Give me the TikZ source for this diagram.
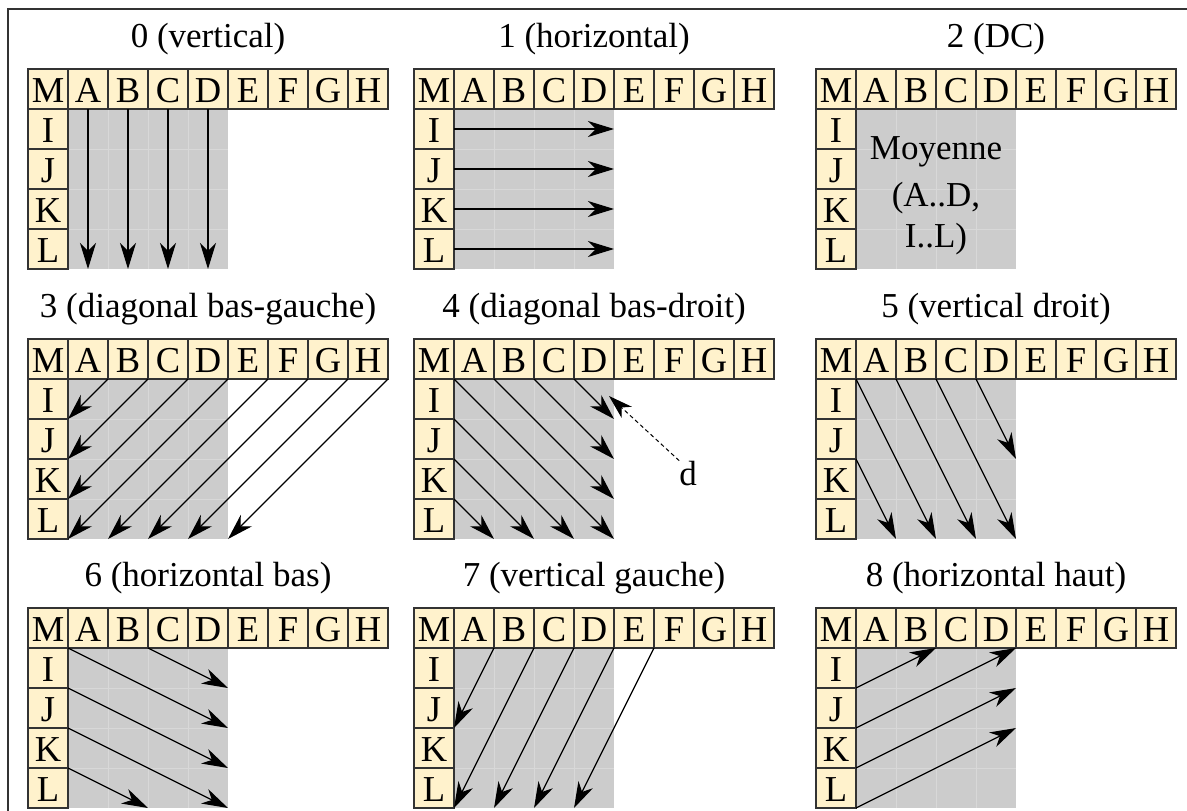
\documentclass[tikz,border=0pt]{standalone}
\usepackage{fontspec}
\setmainfont{Liberation Serif}
\usetikzlibrary{arrows.meta}
\definecolor{cellfill}{HTML}{FFF2CC}
\definecolor{celldraw}{HTML}{333333}
\definecolor{greyfill}{HTML}{CCCCCC}
\definecolor{greyline}{HTML}{D8D8D8}
\definecolor{framecol}{HTML}{333333}
\newcommand\mkpanel[4]{%
\begin{scope}[shift={(#2,#3)}]
 \foreach \rr in {1,...,4}{\foreach \kk in {1,...,4}{\node[greycell] (#1-g-\rr-\kk) at ({20+40*\kk},{20+40*\rr}) {};}}
 \fill[greyfill] (#1-g-1-1.north west) rectangle (#1-g-4-4.south east);
 \foreach \kk in {1,2,3}{\draw[greyline,line width=0.8pt] (#1-g-1-\kk.north east) -- (#1-g-4-\kk.south east);
   \draw[greyline,line width=0.8pt] (#1-g-\kk-1.south west) -- (#1-g-\kk-4.south east);}
 \foreach \lbl [count=\ii from 0] in {M,A,B,C,D,E,F,G,H}{\node[cellbox] (#1-\lbl) at ({20+40*\ii},20) {\lbl};}
 \foreach \lbl [count=\ii from 1] in {I,J,K,L}{\node[cellbox] (#1-\lbl) at (20,{20+40*\ii}) {\lbl};}
 \node[titletext] (#1-title) at (180,-22) {#4};
\end{scope}}
\begin{document}
\begin{tikzpicture}[x=1pt,y=-1pt,
  every node/.style={font=\fontsize{35}{42}\selectfont, inner sep=0pt, outer sep=0pt},
  cellbox/.style={draw=celldraw, fill=cellfill, line width=1.2pt, minimum width=40pt, minimum height=40pt, text height=26pt, text depth=0pt, font=\fontsize{36.5}{42}\selectfont},
  greycell/.style={minimum width=40pt, minimum height=40pt},
  arr/.style={line width=1.3pt, -{Stealth[length=26pt,width=16pt,inset=8pt]}},
  darr/.style={line width=1pt, dash pattern=on 4pt off 3pt, -{Stealth[length=24pt,width=15pt,inset=7pt]}},
  titletext/.style={anchor=base}
]
\useasboundingbox (0,0) rectangle (1187,811);
\fill[white] (0,0) rectangle (1187,811);
\draw[framecol, line width=1.2pt] (8,811) -- (8,9) -- (1187,9);

\mkpanel{p0}{28}{69}{0 (vertical)}
\mkpanel{p1}{414}{69}{1 (horizontal)}
\mkpanel{p2}{816}{69}{2 (DC)}
\mkpanel{p3}{28}{339}{3 (diagonal bas-gauche)}
\mkpanel{p4}{414}{339}{4 (diagonal bas-droit)}
\mkpanel{p5}{816}{339}{5 (vertical droit)}
\mkpanel{p6}{28}{608}{6 (horizontal bas)}
\mkpanel{p7}{414}{608}{7 (vertical gauche)}
\mkpanel{p8}{816}{608}{8 (horizontal haut)}

% 0 vertical
\foreach \lbl/\kk in {A/1,B/2,C/3,D/4}{\draw[arr] (p0-\lbl.south) -- (p0-g-4-\kk.south);}
% 1 horizontal
\foreach \lbl/\rr in {I/1,J/2,K/3,L/4}{\draw[arr] (p1-\lbl.east) -- (p1-g-\rr-4.east);}
% 2 DC
\node[anchor=base] (dc1) at (936,159) {Moyenne};
\node[anchor=base] (dc2) at (936,206) {(A..D,};
\node[anchor=base] (dc3) at (936,247) {I..L)};
% 3 diagonal bas-gauche
\foreach \lbl/\tgt in {A/g-1-1.south west,B/g-2-1.south west,C/g-3-1.south west,D/g-4-1.south west,E/g-4-2.south west,F/g-4-3.south west,G/g-4-4.south west,H/g-4-4.south east}{\draw[arr] (p3-\lbl.south east) -- (p3-\tgt);}
% 4 diagonal bas-droit
\foreach \lbl/\tgt in {M/g-4-4,A/g-3-4,B/g-2-4,C/g-1-4,I/g-4-3,J/g-4-2,K/g-4-1}{\draw[arr] (p4-\lbl.south east) -- (p4-\tgt.south east);}
\node[anchor=base] (d) at (688,485) {d};
\coordinate (dtip) at (609,396);
\draw[darr] (d.north west) -- (dtip);
% 5 vertical droit
\foreach \lbl/\tgt in {M/g-4-2,A/g-4-3,B/g-4-4,C/g-2-4,J/g-4-1}{\draw[arr] (p5-\lbl.south east) -- (p5-\tgt.south east);}
% 6 horizontal bas
\foreach \lbl/\tgt in {M/g-2-4,B/g-1-4,I/g-3-4,J/g-4-4,K/g-4-2}{\draw[arr] (p6-\lbl.south east) -- (p6-\tgt.south east);}
% 7 vertical gauche
\foreach \lbl/\tgt in {A/g-2-1,B/g-4-1,C/g-4-2,D/g-4-3,E/g-4-4}{\draw[arr] (p7-\lbl.south east) -- (p7-\tgt.south west);}
% 8 horizontal haut
\foreach \lbl/\tgt in {I/B,J/D,K/g-1-4,L/g-2-4}{\draw[arr] (p8-\lbl.south east) -- (p8-\tgt.south east);}
\end{tikzpicture}
\end{document}
